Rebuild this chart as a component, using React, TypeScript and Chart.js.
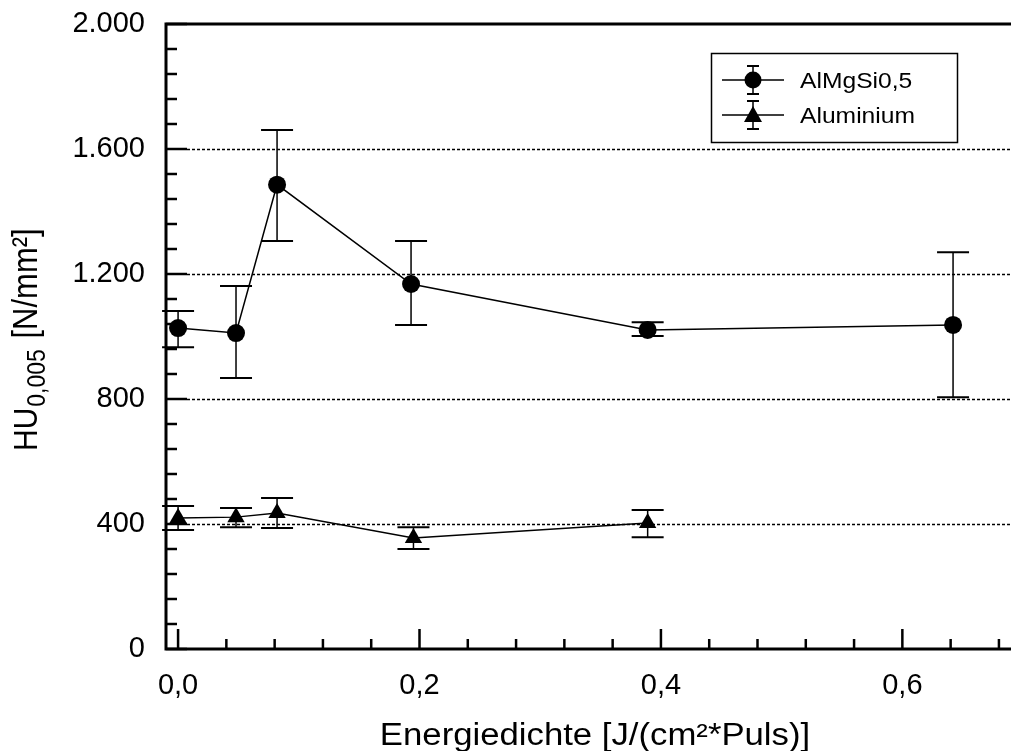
import React, { useEffect, useRef } from "react";
import { Chart, registerables } from "chart.js";

Chart.register(...registerables);

// ---- data ----
const energy = [0, 0.048, 0.082, 0.193, 0.389, 0.642];
const almgsiMean = [1027, 1011, 1486, 1168, 1021, 1037];
const almgsiUpper = [1082, 1162, 1661, 1306, 1046, 1270];
const almgsiLower = [966, 867, 1306, 1037, 1002, 806];

const aluEnergy = [0, 0.048, 0.082, 0.195, 0.389];
const aluMean = [419, 422, 435, 355, 403];
const aluUpper = [458, 451, 483, 390, 445];
const aluLower = [381, 390, 387, 320, 358];

const seriesNames = ["AlMgSi0,5", "Aluminium"];

const yTickValues = [0, 400, 800, 1200, 1600, 2000];
const yTickLabels = ["0", "400", "800", "1.200", "1.600", "2.000"];
const xTickValues = [0, 0.2, 0.4, 0.6];
const xTickLabels = ["0,0", "0,2", "0,4", "0,6"];
const yMinorStep = 80;
const xMinorStep = 0.04;

const xTitle = "Energiedichte [J/(cm²*Puls)]";
const yTitleMain = "HU";
const yTitleSub = "0,005";
const yTitleRest = " [N/mm²]";

const FONT = "Arial, 'Liberation Sans', Helvetica, sans-serif";
const STRETCH = 1.12;

const decorPlugin = {
  id: "decor",
  beforeDatasetsDraw(chart: any) {
    const { ctx, chartArea: a, scales } = chart;
    const xs = scales.x;
    const ys = scales.y;
    ctx.save();
    // dotted gridlines
    ctx.strokeStyle = "#000";
    ctx.lineWidth = 1.5;
    ctx.setLineDash([3, 2]);
    for (const v of yTickValues) {
      if (v === ys.min || v === ys.max) continue;
      const py = Math.round(ys.getPixelForValue(v)) + 0.5;
      ctx.beginPath();
      ctx.moveTo(a.left + 21, py);
      ctx.lineTo(a.right, py);
      ctx.stroke();
    }
    ctx.setLineDash([]);
    // error bars
    const drawErr = (xv: number[], lo: number[], hi: number[]) => {
      for (let i = 0; i < xv.length; i++) {
        const px = xs.getPixelForValue(xv[i]);
        const pl = ys.getPixelForValue(lo[i]);
        const ph = ys.getPixelForValue(hi[i]);
        ctx.lineWidth = 1.5;
        ctx.beginPath();
        ctx.moveTo(px, pl);
        ctx.lineTo(px, ph);
        ctx.stroke();
        ctx.lineWidth = 2;
        ctx.beginPath();
        ctx.moveTo(px - 16, pl);
        ctx.lineTo(px + 16, pl);
        ctx.moveTo(px - 16, ph);
        ctx.lineTo(px + 16, ph);
        ctx.stroke();
      }
    };
    drawErr(energy, almgsiLower, almgsiUpper);
    drawErr(aluEnergy, aluLower, aluUpper);
    ctx.restore();
  },
  afterDatasetsDraw(chart: any) {
    const { ctx, chartArea: a, scales } = chart;
    const xs = scales.x;
    const ys = scales.y;
    ctx.save();
    ctx.strokeStyle = "#000";
    // y ticks (inward)
    ctx.lineWidth = 2.5;
    const nY = Math.round((ys.max - ys.min) / yMinorStep);
    for (let i = 0; i <= nY; i++) {
      const v = ys.min + i * yMinorStep;
      const py = ys.getPixelForValue(v);
      const major = yTickValues.includes(v);
      ctx.beginPath();
      ctx.moveTo(a.left, py);
      ctx.lineTo(a.left + (major ? 21 : 11), py);
      ctx.stroke();
    }
    // x ticks (inward)
    for (let i = 0; ; i++) {
      const v = i * xMinorStep;
      if (v > xs.max) break;
      const px = xs.getPixelForValue(v);
      const major = i % 5 === 0;
      ctx.beginPath();
      ctx.moveTo(px, a.bottom);
      ctx.lineTo(px, a.bottom - (major ? 20 : 10));
      ctx.stroke();
    }
    // axis frame: left, bottom, top
    ctx.lineWidth = 3;
    ctx.lineCap = "square";
    ctx.beginPath();
    ctx.moveTo(a.right + 5, a.top);
    ctx.lineTo(a.left, a.top);
    ctx.lineTo(a.left, a.bottom);
    ctx.lineTo(a.right + 5, a.bottom);
    ctx.stroke();
    ctx.restore();
  },
  afterDraw(chart: any) {
    const { ctx } = chart;
    ctx.save();
    ctx.fillStyle = "#000";
    ctx.strokeStyle = "#000";

    // x title
    ctx.save();
    ctx.translate(595, 745);
    ctx.scale(STRETCH, 1);
    ctx.font = `31px ${FONT}`;
    ctx.textAlign = "center";
    ctx.textBaseline = "alphabetic";
    ctx.fillText(xTitle, 0, 0);
    ctx.restore();

    // y title with subscript
    ctx.save();
    ctx.translate(37, 451);
    ctx.rotate(-Math.PI / 2);
    ctx.scale(1, STRETCH);
    ctx.textAlign = "left";
    ctx.textBaseline = "alphabetic";
    ctx.font = `30px ${FONT}`;
    ctx.fillText(yTitleMain, 0, 0);
    let off = ctx.measureText(yTitleMain).width + 1;
    ctx.font = `23px ${FONT}`;
    ctx.fillText(yTitleSub, off, 7);
    off += ctx.measureText(yTitleSub).width + 2;
    ctx.font = `31px ${FONT}`;
    ctx.fillText(yTitleRest, off, 0);
    ctx.restore();

    // legend
    const bx = 711, by = 53, bw = 246, bh = 89;
    ctx.fillStyle = "#fff";
    ctx.fillRect(bx, by, bw, bh);
    ctx.fillStyle = "#000";
    ctx.lineWidth = 1.5;
    ctx.strokeRect(bx + 0.5, by + 0.5, bw, bh);
    const rows = [80, 115];
    rows.forEach((ry, i) => {
      ctx.lineWidth = 1.5;
      ctx.beginPath();
      ctx.moveTo(722, ry);
      ctx.lineTo(784, ry);
      ctx.moveTo(753, ry - 14);
      ctx.lineTo(753, ry + 14);
      ctx.stroke();
      ctx.lineWidth = 2;
      ctx.beginPath();
      ctx.moveTo(747, ry - 14);
      ctx.lineTo(759, ry - 14);
      ctx.moveTo(747, ry + 14);
      ctx.lineTo(759, ry + 14);
      ctx.stroke();
      ctx.beginPath();
      if (i === 0) {
        ctx.arc(753, ry, 8.5, 0, Math.PI * 2);
      } else {
        ctx.moveTo(753, ry - 9);
        ctx.lineTo(762, ry + 7);
        ctx.lineTo(744, ry + 7);
        ctx.closePath();
      }
      ctx.fill();
      ctx.save();
      ctx.translate(800, ry + 8);
      ctx.scale(STRETCH, 1);
      ctx.font = `22px ${FONT}`;
      ctx.textAlign = "left";
      ctx.textBaseline = "alphabetic";
      ctx.fillText(seriesNames[i], 0, 0);
      ctx.restore();
    });
    ctx.restore();
  },
};

export default function App() {
  const ref = useRef<HTMLCanvasElement | null>(null);

  useEffect(() => {
    if (!ref.current) return;
    const chart = new Chart(ref.current, {
      type: "scatter",
      data: {
        datasets: [
          {
            label: seriesNames[0],
            data: energy.map((x, i) => ({ x, y: almgsiMean[i] })),
            showLine: true,
            borderColor: "#000",
            borderWidth: 1.5,
            pointStyle: "circle",
            pointRadius: 9,
            pointBackgroundColor: "#000",
            pointBorderColor: "#000",
            pointBorderWidth: 0,
          },
          {
            label: seriesNames[1],
            data: aluEnergy.map((x, i) => ({ x, y: aluMean[i] })),
            showLine: true,
            borderColor: "#000",
            borderWidth: 1.5,
            pointStyle: "triangle",
            pointRadius: 10,
            pointBackgroundColor: "#000",
            pointBorderColor: "#000",
            pointBorderWidth: 0,
          },
        ],
      },
      options: {
        animation: false,
        responsive: false,
        devicePixelRatio: 1,
        layout: { autoPadding: false, padding: { top: 24, right: 0, left: 0, bottom: 0 } },
        plugins: {
          legend: { display: false },
          tooltip: { enabled: false },
        },
        scales: {
          x: {
            type: "linear",
            min: -0.01,
            max: 0.69,
            afterBuildTicks: (s: any) => {
              s.ticks = xTickValues.map((v) => ({ value: v }));
            },
            afterFit: (s: any) => {
              s.height = 102;
              s.paddingLeft = 0;
              s.paddingRight = 0;
              s.paddingTop = 0;
              s.paddingBottom = 0;
            },
            grid: { display: false, drawTicks: false },
            border: { display: false },
            ticks: {
              autoSkip: false,
              maxRotation: 0,
              padding: 20,
              color: "#000",
              font: { family: FONT, size: 29 },
              callback: (_v: any, i: number) => xTickLabels[i],
            },
          },
          y: {
            type: "linear",
            min: 0,
            max: 2000,
            afterBuildTicks: (s: any) => {
              s.ticks = yTickValues.map((v) => ({ value: v }));
            },
            afterFit: (s: any) => {
              s.width = 166;
              s.paddingLeft = 0;
              s.paddingRight = 0;
              s.paddingTop = 0;
              s.paddingBottom = 0;
            },
            grid: { display: false, drawTicks: false },
            border: { display: false },
            ticks: {
              autoSkip: false,
              padding: 21,
              color: "#000",
              font: { family: FONT, size: 29 },
              callback: (_v: any, i: number) => yTickLabels[i],
            },
          },
        },
      },
      plugins: [decorPlugin],
    });
    return () => chart.destroy();
  }, []);

  return (
    <div style={{ position: "absolute", left: 0, top: 0, width: 1011, height: 751, background: "#fff" }}>
      <canvas ref={ref} width={1011} height={751} style={{ width: 1011, height: 751, display: "block" }} />
    </div>
  );
}
